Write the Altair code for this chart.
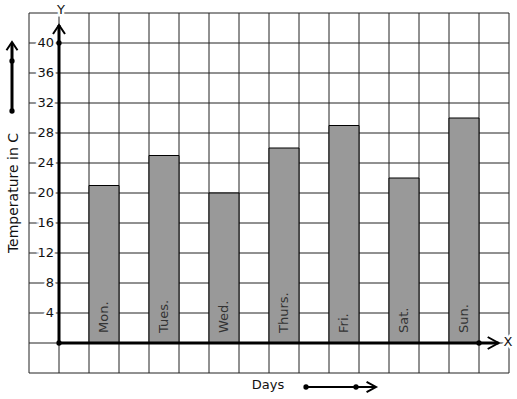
import altair as alt
import pandas as pd

days = ["Mon.", "Tues.", "Wed.", "Thurs.", "Fri.", "Sat.", "Sun."]
temps = [21, 25, 20, 26, 29, 22, 30]
y_ticks = [4, 8, 12, 16, 20, 24, 28, 32, 36, 40]
x_grid = list(range(-1, 16))
y_grid = list(range(-4, 45, 4))

FONT = "DejaVu Sans"

df = pd.DataFrame({"day": days, "temp": temps})
df["start"] = [2 * i + 1 for i in range(len(days))]
df["end"] = df["start"] + 1
df["mid"] = df["start"] + 0.5
df["base"] = 0

tick_df = pd.DataFrame({"v": y_ticks})
xg_df = pd.DataFrame({"g": x_grid})
yg_df = pd.DataFrame({"g": y_grid})

xs = alt.Scale(domain=[-1, 15], nice=False, zero=False)
ys = alt.Scale(domain=[-4, 44], nice=False, zero=False)

GRID = "#222222"

vgrid = alt.Chart(xg_df).mark_rule(color=GRID, strokeWidth=1).encode(
    x=alt.X("g:Q", scale=xs, axis=None),
    y=alt.datum(-4, scale=ys, axis=None), y2=alt.datum(44))
hgrid = alt.Chart(yg_df).mark_rule(color=GRID, strokeWidth=1).encode(
    y=alt.Y("g:Q", scale=ys, axis=None),
    x=alt.datum(-1, scale=xs, axis=None), x2=alt.datum(15))

bars = alt.Chart(df).mark_rect(fill="#999999", stroke="black", strokeWidth=1).encode(
    x=alt.X("start:Q", scale=xs, axis=None),
    x2="end:Q",
    y=alt.Y("base:Q", scale=ys, axis=None),
    y2="temp:Q",
)

bar_labels = alt.Chart(df).mark_text(angle=270, align="left", baseline="middle", dx=10,
                                      fontSize=13, font=FONT, color="#333333").encode(
    x=alt.X("mid:Q", scale=xs, axis=None),
    y=alt.Y("base:Q", scale=ys, axis=None),
    text="day:N",
)

tick_halo = alt.Chart(tick_df).mark_text(align="right", baseline="middle", dx=-5, fontSize=13,
                                          font=FONT, fill="white", stroke="white", strokeWidth=5).encode(
    x=alt.datum(0, scale=xs, axis=None), y=alt.Y("v:Q", scale=ys, axis=None), text="v:Q")
tick_text = alt.Chart(tick_df).mark_text(align="right", baseline="middle", dx=-5, fontSize=13,
                                          font=FONT, color="#111111").encode(
    x=alt.datum(0, scale=xs, axis=None), y=alt.Y("v:Q", scale=ys, axis=None), text="v:Q")

one = pd.DataFrame({"a": [0]})

y_axis_line = alt.Chart(one).mark_rule(color="black", strokeWidth=3).encode(
    x=alt.datum(0, scale=xs, axis=None), y=alt.datum(0, scale=ys, axis=None), y2=alt.datum(42.4))
x_axis_line = alt.Chart(one).mark_rule(color="black", strokeWidth=3).encode(
    x=alt.datum(0, scale=xs, axis=None), x2=alt.datum(14.65), y=alt.datum(0, scale=ys, axis=None))

UP = "M-1,1.5L0,0L1,1.5"
RIGHT = "M-1.8,-1L0,0L-1.8,1"

def head(shape, x, y, size=144):
    return alt.Chart(one).mark_point(shape=shape, size=size, filled=False, stroke="black",
                                     strokeWidth=2, opacity=1).encode(x=x, y=y)

def dot(x, y):
    return alt.Chart(one).mark_circle(size=28, color="black", opacity=1).encode(x=x, y=y)

def dx_(v):
    return alt.datum(v, scale=xs, axis=None)

def dy_(v):
    return alt.datum(v, scale=ys, axis=None)

axis_deco = [
    head(UP, dx_(0), dy_(42.4)),
    head(RIGHT, dx_(14.65), dy_(0)),
    dot(dx_(0), dy_(0)),
    dot(dx_(0), dy_(40)),
    dot(dx_(14), dy_(0)),
]

# decorative arrows outside the plot (pixel positions relative to plot area)
left_arrow = [
    alt.Chart(one).mark_rule(color="black", strokeWidth=3).encode(
        x=alt.value(-17), y=alt.value(30), y2=alt.value(98)),
    head(UP, alt.value(-17), alt.value(29), size=121),
    dot(alt.value(-17), alt.value(48)),
    dot(alt.value(-17), alt.value(98)),
]
bottom_arrow = [
    alt.Chart(one).mark_rule(color="black", strokeWidth=2).encode(
        x=alt.value(277), x2=alt.value(346), y=alt.value(374)),
    head(RIGHT, alt.value(347), alt.value(374), size=110),
    dot(alt.value(277), alt.value(374)),
    dot(alt.value(327), alt.value(374)),
]

def label(text, x, y, size=13, angle=0, halo=False):
    layers = []
    if halo:
        layers.append(alt.Chart(one).mark_text(text=text, fontSize=size, font=FONT, fill="white",
                                               stroke="white", strokeWidth=5, align="center",
                                               baseline="middle", angle=angle).encode(x=x, y=y))
    layers.append(alt.Chart(one).mark_text(text=text, fontSize=size, font=FONT, color="#111111",
                                           align="center", baseline="middle", angle=angle).encode(x=x, y=y))
    return layers

labels = (
    label("Y", alt.value(32), alt.value(-3), halo=True)
    + label("X", alt.value(479), alt.value(329), halo=True)
    + label("Days", alt.value(239), alt.value(372))
    + label("Temperature in C", alt.value(-15), alt.value(180), size=14, angle=270)
)

chart = alt.layer(
    vgrid, hgrid, bars, bar_labels, tick_halo, tick_text, y_axis_line, x_axis_line,
    *axis_deco, *left_arrow, *bottom_arrow, *labels
).properties(
    width=480, height=360,
    padding={"left": 29, "top": 13, "right": 8, "bottom": 26},
    autosize=alt.AutoSizeParams(type="none"),
    background="white",
).configure_view(stroke=None)

chart.save("out.html", embed_options={"renderer": "svg", "actions": False})
